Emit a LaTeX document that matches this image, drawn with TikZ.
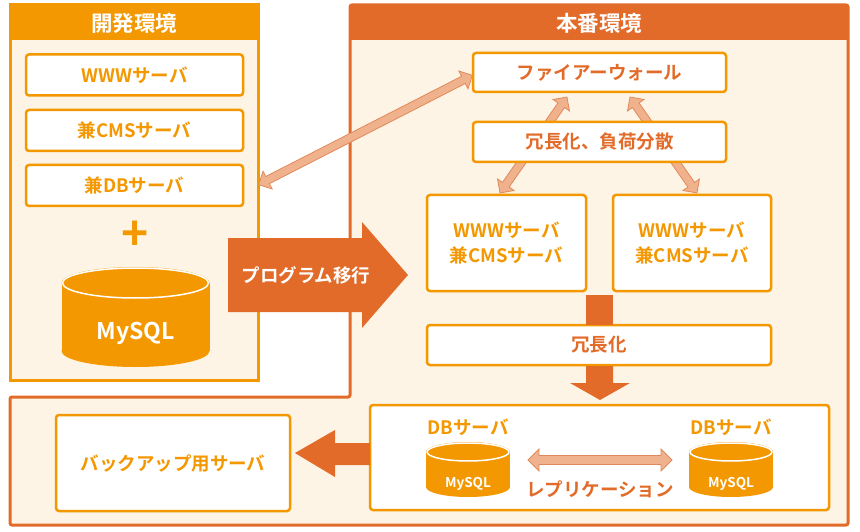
\documentclass[tikz,border=0pt]{standalone}
\usepackage{fontspec}
\setmainfont{Noto Sans CJK JP}[BoldFont={Noto Sans CJK JP Bold}]
\usetikzlibrary{shapes.geometric,shapes.arrows}
\definecolor{lor}{HTML}{F39800}
\definecolor{dor}{HTML}{E26B29}
\definecolor{cream}{HTML}{FDF4E5}
\definecolor{pale}{HTML}{F0B28C}
\definecolor{paleline}{HTML}{E0895A}
\tikzset{
  box/.style={draw=lor,line width=2.5pt,fill=white,rounded corners=3pt,font=\bfseries\fontsize{18.5}{21}\selectfont},
  title/.style={font=\bfseries\fontsize{21.5}{23}\selectfont,text=white},
  lbl/.style={font=\bfseries\fontsize{18.5}{21}\selectfont},
  darrow/.style={double arrow,fill=pale,draw=paleline,line width=0.8pt,minimum width=24pt,double arrow head extend=5pt,inner sep=3pt},
  fat/.style={fill=dor}
}
% cylinder: centre x, top y, radius x, radius y, height
\newcommand\dbcyl[5]{%
  \fill[lor] (#1-#3,#2) rectangle (#1+#3,#2+#5);
  \fill[lor] (#1,#2+#5) ellipse [x radius=#3,y radius=#4];
  \fill[lor] (#1,#2) ellipse [x radius=#3,y radius=#4];
  \draw[white,line width=1.5pt] (#1,#2) ellipse [x radius=#3-1,y radius=#4-1];
}
\begin{document}
\begin{tikzpicture}[x=1pt,y=-1pt]
\useasboundingbox (0,0) rectangle (860,532);
% development
\fill[cream] (10,5) rectangle (258,380);
\fill[lor] (10,5) rectangle (258,40);
\draw[lor,line width=3pt] (10,5) rectangle (258,380);
\node[title] (dev) at (134,23) {開発環境};
\node[box,text=lor,minimum width=217pt,minimum height=41pt] (www) at (134.5,75) {WWWサーバ};
\node[box,text=lor,minimum width=217pt,minimum height=41pt] (cms) at (134.5,130.5) {兼CMSサーバ};
\node[box,text=lor,minimum width=217pt,minimum height=41pt] (dbsv) at (134.5,185.5) {兼DBサーバ};
\node[font=\bfseries\fontsize{46}{46}\selectfont,text=lor] (plus) at (135,236) {+};
\dbcyl{135.5}{283}{74}{16}{68}
\node[font=\bfseries\fontsize{23}{25}\selectfont,text=white] (mysql) at (135.5,333) {MySQL};
% production
\fill[cream,draw=dor,line width=3pt,rounded corners=2pt] (350,5) -- (848,5) -- (848,525) -- (10,525) -- (10,397) -- (350,397) -- cycle;
\fill[dor] (350,5) rectangle (848,40);
\node[title] (prod) at (599,23) {本番環境};
% light arrows
\coordinate (a1) at (258,185);
\coordinate (a2) at (473,75);
\path (a1) -- (a2) node[darrow,midway,sloped,minimum height=240pt,minimum width=20pt] {};
\coordinate (b1) at (567,97);
\coordinate (b2) at (500,193);
\path (b1) -- (b2) node[darrow,midway,sloped,minimum height=117pt,minimum width=20pt] {};
\coordinate (c1) at (630,97);
\coordinate (c2) at (697,193);
\path (c1) -- (c2) node[darrow,midway,sloped,minimum height=117pt,minimum width=20pt] {};
\node[box,text=dor,minimum width=253pt,minimum height=39pt] (fw) at (599.5,72.5) {ファイアーウォール};
\node[box,text=dor,minimum width=253pt,minimum height=40pt] (lb) at (599.5,142) {冗長化、負荷分散};
\node[box,text=lor,minimum width=159pt,minimum height=96pt,align=center] (web1) at (506.5,243) {WWWサーバ\\[4pt]兼CMSサーバ};
\node[box,text=lor,minimum width=158pt,minimum height=96pt,align=center] (web2) at (692,243) {WWWサーバ\\[4pt]兼CMSサーバ};
\node[box,text=dor,minimum width=344pt,minimum height=40pt] (red) at (599,345) {冗長化};
\node[box,minimum width=459pt,minimum height=105pt] (dbbox) at (599.5,457.5) {};
\node[box,text=lor,minimum width=234pt,minimum height=96pt] (backup) at (173,463) {バックアップ用サーバ};
\node[lbl,text=lor] (dbl) at (468,427) {DBサーバ};
\node[lbl,text=lor] (dbr) at (731,427) {DBサーバ};
\dbcyl{468}{452}{42}{10}{35}
\dbcyl{731}{452}{42}{10}{35}
\node[font=\bfseries\fontsize{13.5}{15}\selectfont,text=white] (sql1) at (468,484) {MySQL};
\node[font=\bfseries\fontsize{13.5}{15}\selectfont,text=white] (sql2) at (731,484) {MySQL};
\node[darrow,minimum height=144pt,minimum width=22pt] (rep) at (600,460) {};
\node[lbl,text=dor] (replbl) at (600,489) {レプリケーション};
% fat arrows
\fill[fat] (228,238) -- (362,238) -- (362,222) -- (408,275) -- (362,328) -- (362,312) -- (228,312) -- cycle;
\node[lbl,text=white] (move) at (306,275) {プログラム移行};
\fill[fat] (586,295) rectangle (613,325);
\fill[fat] (586,366) -- (613,366) -- (613,383) -- (630,383) -- (600,400) -- (570,383) -- (586,383) -- cycle;
\fill[fat] (370,443) -- (335,443) -- (335,430) -- (295,453) -- (335,477) -- (335,465) -- (370,465) -- cycle;
\end{tikzpicture}
\end{document}
